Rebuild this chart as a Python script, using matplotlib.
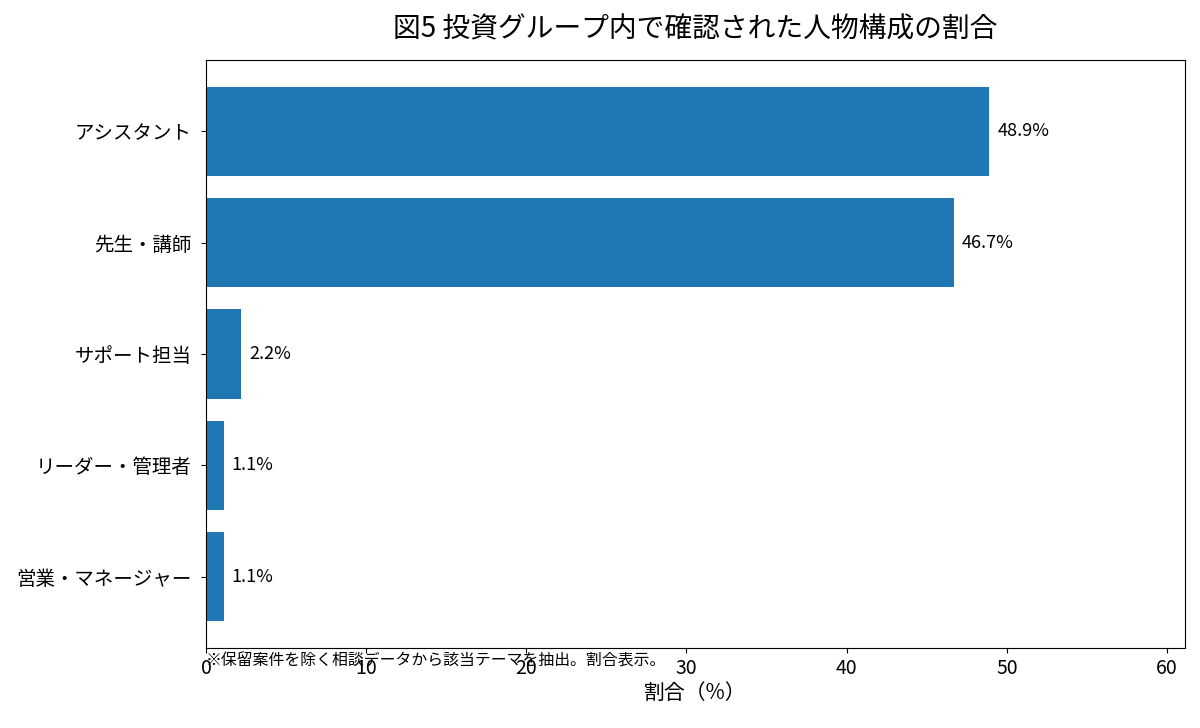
import matplotlib
matplotlib.use("Agg")
import matplotlib.pyplot as plt

plt.rcParams["font.family"] = ["Noto Sans CJK JP", "DejaVu Sans"]

categories = ["アシスタント", "先生・講師", "サポート担当", "リーダー・管理者", "営業・マネージャー"]
shares = [48.9, 46.7, 2.2, 1.1, 1.1]
value_labels = ["48.9%", "46.7%", "2.2%", "1.1%", "1.1%"]

title = "図5 投資グループ内で確認された人物構成の割合"
xlabel = "割合（%）"
note = "※保留案件を除く相談データから該当テーマを抽出。割合表示。"

fig = plt.figure(figsize=(12, 7.28), dpi=100)
ax = fig.add_axes([206 / 1200, 1 - 648 / 728, (1185 - 206) / 1200, (648 - 60) / 728])

ypos = list(range(len(categories)))
ax.barh(ypos, shares, color="#1f77b4", height=0.8)
ax.invert_yaxis()
ax.set_yticks(ypos)
ax.set_yticklabels(categories, fontsize=14)
ax.tick_params(axis="y", pad=7)
ax.set_xlim(0, max(shares) * 1.25)
ax.tick_params(axis="x", labelsize=14)

for y, v, lab in zip(ypos, shares, value_labels):
    ax.text(v + 0.5, y, lab, va="center", ha="left", fontsize=13)

ax.set_title(title, fontsize=20, pad=16)
ax.set_xlabel(xlabel, fontsize=15, labelpad=2)

fig.text(206 / 1200, 1 - 661 / 728, note, fontsize=11.4, ha="left", va="center")

fig.savefig("out.png", dpi=100)
